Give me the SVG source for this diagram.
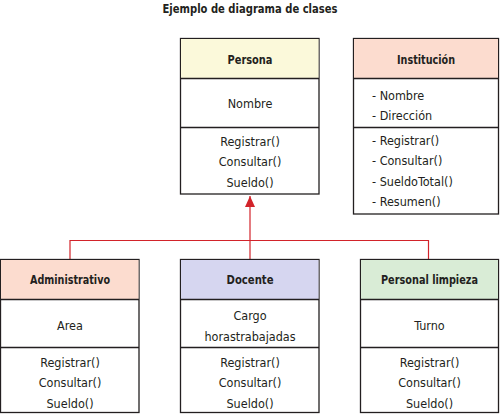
<svg xmlns="http://www.w3.org/2000/svg" width="501" height="415" viewBox="0 0 501 415">
<style>
text{font-family:"DejaVu Sans Condensed","DejaVu Sans",sans-serif;font-stretch:condensed;font-size:12.5px;fill:#231f20}
.c{text-anchor:middle}
.b{font-weight:bold;font-size:13px}
.t{font-weight:bold;font-size:13px}
.box{fill:#fff;stroke:#231f20;stroke-width:1.3}
.ln{stroke:#231f20;stroke-width:1.3;fill:none}
.con{stroke:#d2232a;stroke-width:1.2;fill:none}
</style>
<defs>
<marker id="tri" markerWidth="11" markerHeight="10" refX="11" refY="5" orient="auto" markerUnits="userSpaceOnUse" viewBox="0 0 11 10">
<path d="M0,0 L11,5 L0,10 Z" fill="#d2232a"/>
</marker>
</defs>
<rect width="501" height="415" fill="#fff"/>
<text class="t c" x="250" y="13" textLength="175" lengthAdjust="spacingAndGlyphs">Ejemplo de diagrama de clases</text>

<g id="connectors">
<path class="con" d="M250,259 V196" marker-end="url(#tri)"/>
<path class="con" d="M70,259 V240.5 H428.5 V259"/>
</g>

<g id="persona">
<rect class="box" x="180.5" y="38.5" width="138.5" height="155.5"/>
<rect x="181" y="39" width="137.5" height="39.5" fill="#fbf9da"/>
<path class="ln" d="M180.5,78.5 H319 M180.5,127.5 H319"/>
<text class="b c" x="250" y="64" textLength="45" lengthAdjust="spacingAndGlyphs">Persona</text>
<text class="c" x="250" y="108">Nombre</text>
<text class="c" x="250" y="146">Registrar()</text>
<text class="c" x="250" y="166">Consultar()</text>
<text class="c" x="250" y="187">Sueldo()</text>
</g>

<g id="institucion">
<rect class="box" x="353.5" y="38.5" width="145" height="175.5"/>
<rect x="354" y="39" width="144" height="39.5" fill="#fcdccf"/>
<path class="ln" d="M353.5,78.5 H498.5 M353.5,127.5 H498.5"/>
<text class="b c" x="426" y="64" textLength="58" lengthAdjust="spacingAndGlyphs">Institución</text>
<text x="372" y="100">- Nombre</text>
<text x="372" y="120">- Dirección</text>
<text x="372" y="145">- Registrar()</text>
<text x="372" y="165">- Consultar()</text>
<text x="372" y="186">- SueldoTotal()</text>
<text x="372" y="206">- Resumen()</text>
</g>

<g id="administrativo">
<rect class="box" x="0.5" y="259.5" width="138.5" height="153"/>
<rect x="1" y="260" width="137.5" height="39" fill="#fcdccf"/>
<path class="ln" d="M0.5,299.5 H139 M0.5,347.5 H139"/>
<text class="b c" x="70" y="284" textLength="80" lengthAdjust="spacingAndGlyphs">Administrativo</text>
<text class="c" x="70" y="330">Area</text>
<text class="c" x="70" y="367">Registrar()</text>
<text class="c" x="70" y="387">Consultar()</text>
<text class="c" x="70" y="408">Sueldo()</text>
</g>

<g id="docente">
<rect class="box" x="180.5" y="259.5" width="138.5" height="153"/>
<rect x="181" y="260" width="137.5" height="39" fill="#d6d6f0"/>
<path class="ln" d="M180.5,299.5 H319 M180.5,347.5 H319"/>
<text class="b c" x="250" y="284" textLength="47" lengthAdjust="spacingAndGlyphs">Docente</text>
<text class="c" x="250" y="320">Cargo</text>
<text class="c" x="250" y="341">horastrabajadas</text>
<text class="c" x="250" y="367">Registrar()</text>
<text class="c" x="250" y="387">Consultar()</text>
<text class="c" x="250" y="408">Sueldo()</text>
</g>

<g id="personal-limpieza">
<rect class="box" x="360.5" y="259.5" width="138" height="153"/>
<rect x="361" y="260" width="137" height="39" fill="#d9ecd6"/>
<path class="ln" d="M360.5,299.5 H498.5 M360.5,347.5 H498.5"/>
<text class="b c" x="429.5" y="284" textLength="97" lengthAdjust="spacingAndGlyphs">Personal limpieza</text>
<text class="c" x="429.5" y="330">Turno</text>
<text class="c" x="429.5" y="367">Registrar()</text>
<text class="c" x="429.5" y="387">Consultar()</text>
<text class="c" x="429.5" y="408">Sueldo()</text>
</g>
</svg>
